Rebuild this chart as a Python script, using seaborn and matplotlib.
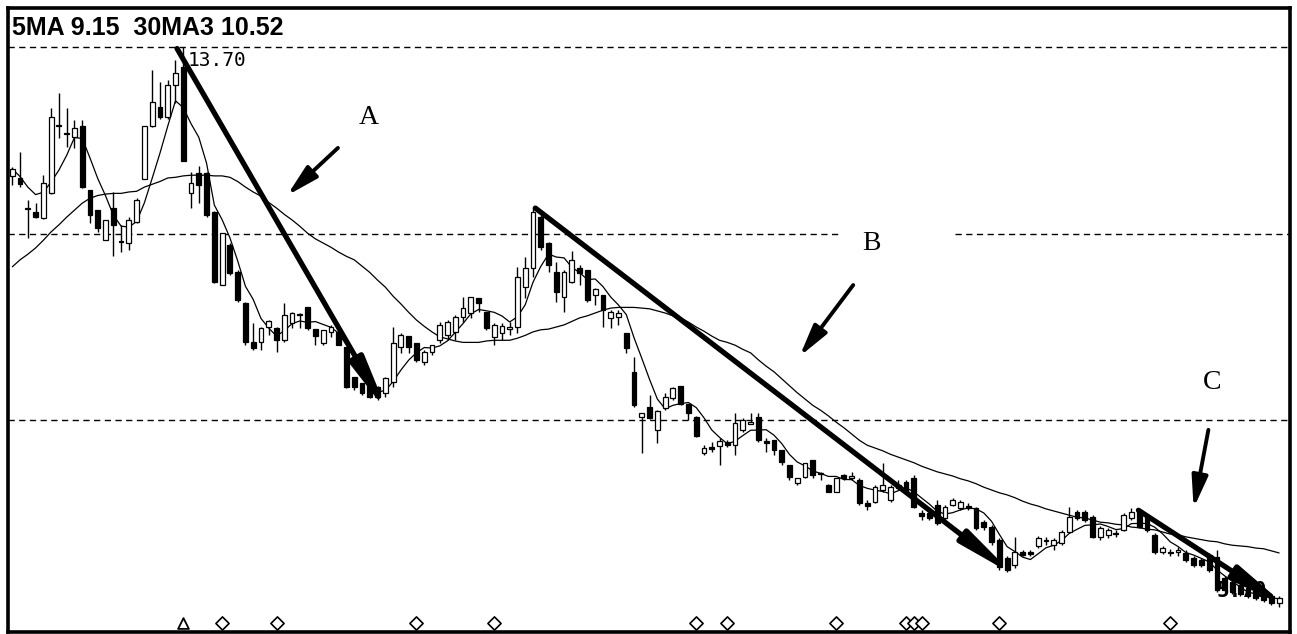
import numpy as np
import pandas as pd
import matplotlib
matplotlib.use("Agg")
import matplotlib.pyplot as plt
import seaborn as sns

# ---------------- data ----------------
opens = [11.86, 11.83, 11.38, 11.34, 11.26, 11.61, 12.57, 12.47, 12.41, 12.57,
         11.66, 11.37, 10.94, 11.40, 10.93, 10.90, 11.20, 11.81, 12.58, 12.84,
         12.70, 13.16, 13.41, 11.61, 11.90, 11.90, 11.34, 10.30, 10.87, 10.48,
         10.04, 9.48, 9.48, 9.70, 9.68, 9.51, 9.76, 9.88, 9.98, 9.67,
         9.47, 9.63, 9.63, 9.41, 8.98, 8.90, 8.91, 8.84, 8.76, 8.91,
         9.41, 9.57, 9.47, 9.20, 9.34, 9.51, 9.58, 9.63, 9.84, 9.90,
         10.11, 9.91, 9.56, 9.61, 9.67, 9.70, 10.27, 10.54, 11.27, 10.90,
         10.48, 10.13, 10.34, 10.54, 10.51, 10.16, 10.16, 9.83, 9.84, 9.61,
         9.06, 8.41, 8.56, 8.23, 8.54, 8.69, 8.86, 8.60, 8.41, 7.90,
         7.97, 8.00, 8.06, 8.01, 8.23, 8.31, 8.41, 8.07, 8.08, 7.94,
         7.73, 7.47, 7.56, 7.80, 7.61, 7.44, 7.34, 7.58, 7.54, 7.51,
         7.18, 7.20, 7.37, 7.23, 7.44, 7.48, 7.54, 7.04, 7.04, 7.16,
         6.97, 7.16, 7.11, 7.14, 7.11, 6.91, 6.84, 6.66, 6.40, 6.30,
         6.48, 6.47, 6.57, 6.64, 6.59, 6.61, 6.77, 7.06, 7.06, 6.98,
         6.70, 6.73, 6.74, 6.80, 6.97, 7.08, 6.98, 6.73, 6.48, 6.47,
         6.48, 6.47, 6.40, 6.37, 6.44, 6.41, 6.11, 6.06, 6.01, 5.97,
         5.94, 5.90, 5.86, 5.76]
highs = [11.98, 12.20, 11.51, 11.47, 11.87, 12.83, 13.04, 12.83, 12.66, 12.66,
         11.66, 11.37, 11.23, 11.63, 11.16, 11.27, 11.54, 12.57, 13.37, 13.20,
         13.23, 13.51, 13.70, 11.91, 12.00, 11.91, 11.36, 11.04, 10.90, 10.51,
         10.06, 9.76, 9.70, 9.80, 9.70, 10.04, 9.91, 9.90, 9.98, 9.67,
         9.66, 9.73, 9.63, 9.41, 8.98, 8.90, 8.91, 8.86, 8.98, 9.70,
         9.61, 9.57, 9.47, 9.37, 9.44, 9.77, 9.80, 9.87, 10.13, 10.13,
         10.11, 9.91, 9.76, 9.76, 9.77, 10.56, 10.70, 11.41, 11.30, 10.91,
         10.63, 10.51, 10.78, 10.58, 10.51, 10.26, 10.16, 9.94, 9.94, 9.61,
         9.27, 8.47, 8.73, 8.51, 8.76, 8.84, 8.86, 8.60, 8.43, 8.01,
         8.06, 8.11, 8.08, 8.47, 8.40, 8.47, 8.47, 8.11, 8.08, 7.94,
         7.73, 7.54, 7.76, 7.80, 7.63, 7.46, 7.54, 7.60, 7.63, 7.54,
         7.23, 7.44, 7.76, 7.44, 7.51, 7.51, 7.58, 7.08, 7.06, 7.23,
         7.16, 7.26, 7.23, 7.18, 7.13, 6.94, 6.87, 6.69, 6.43, 6.70,
         6.51, 6.51, 6.71, 6.70, 6.68, 6.80, 7.13, 7.08, 7.08, 7.01,
         6.86, 6.83, 6.80, 7.04, 7.11, 7.11, 7.01, 6.76, 6.57, 6.53,
         6.56, 6.51, 6.43, 6.40, 6.47, 6.51, 6.14, 6.09, 6.04, 6.00,
         5.97, 5.93, 5.89, 5.86]
lows = [11.73, 11.70, 10.97, 11.26, 11.25, 11.60, 12.40, 12.27, 12.26, 11.69,
        11.18, 11.06, 10.94, 10.71, 10.77, 10.80, 11.18, 11.81, 12.56, 12.68,
        12.68, 12.90, 12.08, 11.40, 11.47, 11.27, 10.33, 10.30, 10.44, 10.06,
        9.44, 9.37, 9.37, 9.58, 9.34, 9.48, 9.68, 9.68, 9.66, 9.44,
        9.44, 9.56, 9.44, 8.83, 8.80, 8.73, 8.69, 8.66, 8.70, 8.84,
        9.33, 9.33, 9.20, 9.16, 9.30, 9.47, 9.51, 9.51, 9.77, 9.83,
        9.91, 9.66, 9.44, 9.51, 9.58, 9.61, 10.11, 10.41, 10.80, 10.48,
        10.06, 9.91, 10.33, 10.30, 10.06, 10.01, 9.70, 9.68, 9.73, 9.33,
        8.56, 7.90, 8.39, 8.04, 8.51, 8.66, 8.58, 8.37, 8.13, 7.87,
        7.91, 7.73, 7.98, 7.87, 8.20, 8.31, 8.06, 7.91, 7.87, 7.73,
        7.51, 7.44, 7.54, 7.54, 7.51, 7.34, 7.34, 7.51, 7.51, 7.16,
        7.08, 7.18, 7.34, 7.20, 7.37, 7.31, 7.11, 6.94, 6.94, 6.87,
        6.91, 7.14, 7.08, 7.08, 6.80, 6.80, 6.59, 6.23, 6.20, 6.26,
        6.43, 6.43, 6.54, 6.59, 6.51, 6.59, 6.76, 6.94, 6.91, 6.68,
        6.66, 6.68, 6.70, 6.78, 6.94, 6.83, 6.77, 6.46, 6.46, 6.43,
        6.43, 6.34, 6.27, 6.27, 6.20, 5.91, 5.91, 5.88, 5.86, 5.83,
        5.80, 5.77, 5.73, 5.70]
closes = [11.96, 11.74, 11.40, 11.27, 11.76, 12.70, 12.58, 12.46, 12.54, 11.70,
          11.30, 11.11, 11.23, 11.16, 10.91, 11.23, 11.51, 12.57, 12.91, 12.70,
          13.16, 13.33, 12.08, 11.76, 11.73, 11.30, 10.34, 11.04, 10.47, 10.08,
          9.48, 9.40, 9.68, 9.78, 9.51, 9.87, 9.90, 9.87, 9.68, 9.57,
          9.66, 9.70, 9.44, 8.84, 8.84, 8.76, 8.70, 8.70, 8.97, 9.47,
          9.58, 9.41, 9.23, 9.34, 9.44, 9.73, 9.77, 9.84, 9.97, 10.13,
          10.04, 9.68, 9.73, 9.71, 9.70, 10.41, 10.54, 11.34, 10.84, 10.58,
          10.20, 10.48, 10.66, 10.47, 10.08, 10.24, 9.94, 9.91, 9.90, 9.40,
          8.58, 8.47, 8.40, 8.50, 8.70, 8.83, 8.60, 8.47, 8.14, 7.97,
          7.96, 8.07, 8.01, 8.33, 8.37, 8.34, 8.08, 8.04, 7.94, 7.77,
          7.56, 7.54, 7.76, 7.58, 7.60, 7.34, 7.54, 7.54, 7.57, 7.18,
          7.14, 7.41, 7.44, 7.41, 7.40, 7.34, 7.13, 7.00, 6.97, 6.90,
          7.13, 7.23, 7.20, 7.11, 6.83, 6.84, 6.63, 6.27, 6.23, 6.48,
          6.44, 6.46, 6.68, 6.66, 6.66, 6.77, 6.98, 6.97, 6.94, 6.70,
          6.83, 6.80, 6.75, 7.01, 7.06, 6.84, 6.80, 6.48, 6.54, 6.48,
          6.51, 6.37, 6.30, 6.30, 6.23, 5.94, 5.94, 5.91, 5.89, 5.86,
          5.83, 5.80, 5.76, 5.83]
ma30 = [10.56, 10.66, 10.74, 10.83, 10.94, 11.06, 11.16, 11.27, 11.37, 11.47,
        11.54, 11.58, 11.60, 11.61, 11.61, 11.63, 11.64, 11.70, 11.74, 11.78,
        11.83, 11.84, 11.86, 11.87, 11.87, 11.87, 11.86, 11.86, 11.84, 11.78,
        11.70, 11.63, 11.57, 11.48, 11.40, 11.31, 11.23, 11.14, 11.04, 10.96,
        10.90, 10.84, 10.77, 10.71, 10.66, 10.57, 10.48, 10.37, 10.27, 10.14,
        10.03, 9.91, 9.80, 9.71, 9.63, 9.56, 9.53, 9.50, 9.48, 9.48,
        9.48, 9.50, 9.51, 9.51, 9.51, 9.54, 9.58, 9.63, 9.66, 9.67,
        9.70, 9.73, 9.78, 9.83, 9.86, 9.90, 9.94, 9.97, 9.98, 9.98,
        9.98, 9.97, 9.96, 9.93, 9.90, 9.86, 9.83, 9.77, 9.70, 9.64,
        9.57, 9.51, 9.48, 9.44, 9.38, 9.33, 9.23, 9.14, 9.06, 8.96,
        8.86, 8.76, 8.67, 8.58, 8.51, 8.43, 8.34, 8.26, 8.17, 8.08,
        8.01, 7.97, 7.93, 7.88, 7.84, 7.80, 7.76, 7.71, 7.67, 7.63,
        7.60, 7.57, 7.53, 7.50, 7.46, 7.41, 7.37, 7.33, 7.30, 7.26,
        7.21, 7.17, 7.14, 7.10, 7.07, 7.04, 7.01, 6.98, 6.97, 6.94,
        6.91, 6.90, 6.88, 6.87, 6.84, 6.83, 6.81, 6.80, 6.77, 6.74,
        6.73, 6.70, 6.68, 6.66, 6.64, 6.63, 6.60, 6.58, 6.57, 6.56,
        6.54, 6.53, 6.50, 6.47]

level_lines = [13.70, 11.03, 8.37]
signal_days = [27, 34, 52, 62, 88, 92, 106, 115, 116, 117, 127, 149]
peak_day = [22]
marker_price = 5.47

# trend lines (start day, start price, end day, end price)
trend_A = [21.2, 13.68, 48.35, 8.47]
trend_B = [67.3, 11.40, 128.8, 6.16]
trend_C = [144.9, 7.08, 164.0, 5.70]
# pointer arrows (tail day, tail price, tip day, tip price)
pointer_A = [41.9, 12.26, 35.35, 11.58]
pointer_B = [108.2, 10.30, 101.3, 9.28]
pointer_C = [153.9, 8.23, 152.0, 7.11]
labels = ["A", "B", "C"]
label_pos = [(45.8, 12.70), (110.6, 10.90), (154.4, 8.90)]
title_text = "5MA 9.15  30MA3 10.52"
high_label = "13.70"
low_label = "5.70"

# ---------------- build ----------------
df = pd.DataFrame({"open": opens, "high": highs, "low": lows,
                   "close": closes, "ma30": ma30})
df["day"] = np.arange(len(df))
df["ma5"] = df["close"].rolling(5, min_periods=1).mean()

sns.set_style("white")
plt.rcParams["font.family"] = ["DejaVu Sans"]
plt.rcParams["text.color"] = "black"

W, H = 1297, 634
fig = plt.figure(figsize=(W / 100, H / 100), dpi=100)
ax = fig.add_axes([8 / W, 2 / H, 1282 / W, 624 / H])
xlo, xhi = -0.55, 164.4
ax.set_xlim(xlo, xhi)
ax.set_ylim(5.34, 14.26)
ax.set_xticks([])
ax.set_yticks([])
ax.set_xlabel("")
ax.set_ylabel("")
for s in ax.spines.values():
    s.set_color("black")
    s.set_linewidth(2.6)

dash = (0, (4.5, 3.2))
ax.hlines([level_lines[0], level_lines[2]], xlo, xhi, colors="black",
          linestyles=dash, lw=1.0, zorder=1)
ax.hlines(level_lines[1], xlo, 106.5, colors="black", linestyles=dash, lw=1.0, zorder=1)
ax.hlines(level_lines[1], 121.3, xhi, colors="black", linestyles=dash, lw=1.0, zorder=1)

sns.lineplot(data=df, x="day", y="ma30", ax=ax, color="black", lw=0.9, zorder=2)
sns.lineplot(data=df, x="day", y="ma5", ax=ax, color="black", lw=0.9, zorder=2)
ax.set_xlabel("")
ax.set_ylabel("")

up = df["close"] >= df["open"]
ax.vlines(df["day"], df["low"], df["high"], color="black", lw=1.0, zorder=3)
bw = 0.62
hu = np.maximum((df["close"] - df["open"])[up], 0.02)
ax.bar(df["day"][up], hu, bottom=df["open"][up], width=bw,
       facecolor="white", edgecolor="black", lw=0.9, zorder=4)
hd = np.maximum((df["open"] - df["close"])[~up], 0.02)
ax.bar(df["day"][~up], hd, bottom=df["close"][~up], width=bw,
       facecolor="black", edgecolor="black", lw=0.9, zorder=4)

sns.scatterplot(x=signal_days, y=[marker_price] * len(signal_days), ax=ax,
                marker="D", s=45, facecolor="white", edgecolor="black",
                linewidth=1.2, zorder=5)
sns.scatterplot(x=peak_day, y=[marker_price], ax=ax, marker="^", s=60,
                facecolor="white", edgecolor="black", linewidth=1.3, zorder=5)

def arrow(seg, lw, hl, hw, ms):
    ax.annotate("", xy=(seg[2], seg[3]), xytext=(seg[0], seg[1]),
                arrowprops=dict(arrowstyle=f"-|>,head_length={hl},head_width={hw}",
                                lw=lw, color="black", shrinkA=0, shrinkB=0,
                                mutation_scale=ms), zorder=7)

ax.text(22.6, 13.51, high_label, family="DejaVu Sans Mono", fontsize=14,
        color="black", ha="left", va="center", zorder=6)
ax.text(155.0, 5.93, low_label, family="DejaVu Sans Mono", fontsize=15,
        color="black", fontweight="bold", ha="left", va="center", zorder=6)

for seg in (trend_A, trend_B, trend_C):
    arrow(seg, 3.8, 1.6, 0.22, 20)
for seg in (pointer_A, pointer_B, pointer_C):
    arrow(seg, 2.8, 1.2, 0.3, 16)

for lab, (lx, ly) in zip(labels, label_pos):
    ax.text(lx, ly, lab, family="Liberation Serif", fontsize=20,
            color="black", ha="center", va="center", zorder=6)

fig.text(12 / W, 1 - 28 / H, title_text, family="Liberation Sans",
         fontweight="bold", fontsize=18, color="black", ha="left", va="center")

fig.savefig("out.png", dpi=100)
